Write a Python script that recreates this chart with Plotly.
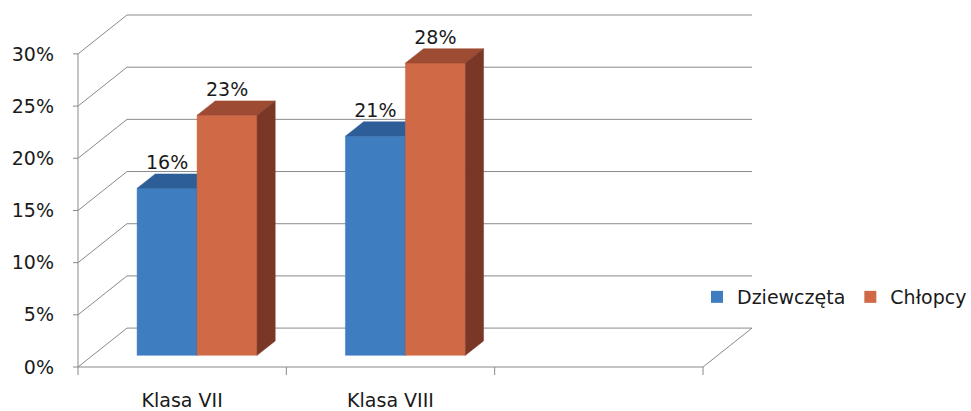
import plotly.graph_objects as go

# ---------------- data ----------------
categories = ["Klasa VII", "Klasa VIII"]
series_names = ["Dziewczęta", "Chłopcy"]
dziewczeta = [0.16, 0.21]
chlopcy = [0.23, 0.28]
tick_vals = [0.0, 0.05, 0.10, 0.15, 0.20, 0.25, 0.30]
tick_text = ["0%", "5%", "10%", "15%", "20%", "25%", "30%"]
n_slots = 3  # category slots on the floor (third one empty)

# ---------------- style / geometry ----------------
FONT = "DejaVu Sans"
TXT = "#1a1a1a"
GRID = "#8a8a8a"
DX = 0.2352   # oblique depth shift (category units)
DY = 0.0373   # oblique depth shift (value units)
BAR_W = 0.288
GROUP_OFF = 0.213
T0, T1 = 0.30, 0.67
colors = {
    "Dziewczęta": dict(front="#3E7DC0", top="#2E5E98", side="#264F82"),
    "Chłopcy": dict(front="#D06A46", top="#9E4B33", side="#7A3627"),
}

SX = 208.33   # px per category unit
SY = 1045.0   # px per value unit
pad_l, pad_r, pad_t, pad_b = 5, 4, 4, 8
x_min = -pad_l / SX
x_max = n_slots + DX + pad_r / SX
y_min = -pad_b / SY
y_max = max(tick_vals) + DY + pad_t / SY


def P(x, t, v):
    return x + t * DX, v + t * DY


fig = go.Figure()


def line(pts, color=GRID, width=1):
    xs = [p[0] for p in pts]
    ys = [p[1] for p in pts]
    fig.add_trace(go.Scatter(x=xs, y=ys, mode="lines", line=dict(color=color, width=width),
                             hoverinfo="skip", showlegend=False))


def face(pts, color):
    xs = [p[0] for p in pts] + [pts[0][0]]
    ys = [p[1] for p in pts] + [pts[0][1]]
    fig.add_trace(go.Scatter(x=xs, y=ys, mode="lines", fill="toself", fillcolor=color,
                             line=dict(color=color, width=0.5), hoverinfo="skip", showlegend=False))


# walls: back gridlines and side diagonals
for v in tick_vals:
    line([P(0, 0, v), P(0, 1, v), P(n_slots, 1, v)])
# floor
line([P(0, 0, 0), P(n_slots, 0, 0), P(n_slots, 1, 0)])
# front vertical axis
line([P(0, 0, 0), P(0, 0, max(tick_vals))])
# y ticks
for v in tick_vals:
    line([(x_min, v), P(0, 0, v)])
# x ticks
for k in range(n_slots + 1):
    line([P(k, 0, 0), (k, y_min)])

# bars
for s, (name, vals) in enumerate(zip(series_names, [dziewczeta, chlopcy])):
    c = colors[name]
    for i, v in enumerate(vals):
        x0 = i + GROUP_OFF + s * BAR_W
        x1 = x0 + BAR_W
        face([P(x0, T0, 0), P(x1, T0, 0), P(x1, T0, v), P(x0, T0, v)], c["front"])
        face([P(x0, T0, v), P(x1, T0, v), P(x1, T1, v), P(x0, T1, v)], c["top"])
        face([P(x1, T0, 0), P(x1, T1, 0), P(x1, T1, v), P(x1, T0, v)], c["side"])

# data labels
for s, (name, vals) in enumerate(zip(series_names, [dziewczeta, chlopcy])):
    xs, ys, tx = [], [], []
    for i, v in enumerate(vals):
        x0 = i + GROUP_OFF + s * BAR_W
        xs.append(x0 + BAR_W / 2 + T0 * DX)
        ys.append(v + T1 * DY)
        tx.append(f"{v:.0%}")
    fig.add_trace(go.Scatter(x=xs, y=ys, mode="text", text=tx, textposition="top center",
                             textfont=dict(family=FONT, size=19, color=TXT),
                             hoverinfo="skip", showlegend=False, cliponaxis=False))

# legend entries
for name in series_names:
    fig.add_trace(go.Scatter(x=[None], y=[None], mode="markers", name=name,
                             marker=dict(symbol="square", size=12, color=colors[name]["front"])))

plot_l = 78 - pad_l
plot_r = 752 + pad_r
plot_t = 15 - pad_t
plot_b = 367 + pad_b
W, H = 971, 411
pw = plot_r - plot_l
ph = plot_b - plot_t

fig.update_layout(
    width=W, height=H,
    margin=dict(l=plot_l, r=W - plot_r, t=plot_t, b=H - plot_b, pad=0, autoexpand=False),
    paper_bgcolor="white", plot_bgcolor="white",
    font=dict(family=FONT, size=19, color=TXT),
    showlegend=True,
    legend=dict(orientation="h", x=(697 - plot_l) / pw, y=(plot_b - 297) / ph,
                xanchor="left", yanchor="middle", bgcolor="rgba(0,0,0,0)",
                font=dict(family=FONT, size=19, color=TXT), itemwidth=30,
                tracegroupgap=0),
    xaxis=dict(range=[x_min, x_max], showgrid=False, zeroline=False, showline=False,
               tickvals=[i + 0.5 for i in range(len(categories))], ticktext=categories,
               ticks="", ticklabelstandoff=12, fixedrange=True, automargin=False),
    yaxis=dict(range=[y_min, y_max], showgrid=False, zeroline=False, showline=False,
               tickvals=tick_vals, ticktext=tick_text, ticks="", ticklabelstandoff=18,
               fixedrange=True, automargin=False),
)

fig.write_html("out.html", post_script="document.body.style.margin='0';",
               config={"displayModeBar": False})
